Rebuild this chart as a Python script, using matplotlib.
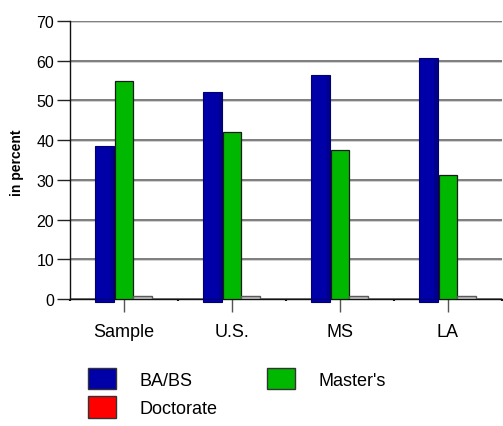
import matplotlib
matplotlib.use("Agg")
import matplotlib.pyplot as plt
from matplotlib.patches import Patch
import numpy as np

plt.rcParams['font.family'] = ['Liberation Sans', 'DejaVu Sans']

categories = ["Sample", "U.S.", "MS", "LA"]
ba_bs = [38.5, 52.0, 56.4, 60.6]
masters = [55.0, 42.0, 37.6, 31.2]
doctorate = [0.8, 0.8, 0.8, 0.8]
series_names = ["BA/BS", "Master's", "Doctorate"]
yticks = [0, 10, 20, 30, 40, 50, 60, 70]

blue = "#0000a8"
green = "#00b800"
red = "#ff0000"

fig = plt.figure(figsize=(5.03, 4.27), dpi=100)
ax = fig.add_axes([70 / 503, 1 - 300 / 427, 432 / 503, 278 / 427])

x = np.arange(len(categories))
w = 0.17

# horizontal grid with a faint shadow line underneath
for t in yticks:
    ax.axhline(t, color="#5a5a5a", lw=1.1, zorder=1)
    ax.axhline(t - 0.25, color="#d0d0d0", lw=0.7, zorder=0.9)

ax.bar(x - 0.18, ba_bs, w, bottom=0, color=blue, edgecolor="#000070",
       lw=0.8, zorder=3, clip_on=False)
# darker right face of the blue bars
ax.bar(x - 0.18 + w / 2 - 0.015, ba_bs, 0.03, color="#000088", lw=0,
       zorder=3.1)
ax.bar(x - 0.18, [-0.75] * len(x), w, bottom=0, color=blue,
       edgecolor="#000070", lw=0.8, zorder=3, clip_on=False)
ax.bar(x, masters, w, color=green, edgecolor="#1a1a1a", lw=0.9, zorder=3)
ax.bar(x + 0.17, doctorate, w, color="#bdbdbd", edgecolor="#5a5a5a",
       lw=1.0, zorder=3)

ax.set_xlim(-0.5, 3.5)
ax.set_ylim(0, 70)
ax.set_yticks(yticks)
ax.set_yticklabels([str(t) for t in yticks], fontsize=11.5)
ax.set_xticks(x)
ax.set_xticklabels(categories, fontsize=13)
ax.set_xticks(np.arange(-0.5, 4.0, 1.0), minor=True)
ax.tick_params(axis="y", direction="out", length=9.5, width=1.0, pad=2,
               color="#222222")
ax.tick_params(axis="x", which="major", direction="out", length=9.5,
               width=1.0, pad=8, color="#555555")
ax.tick_params(axis="x", which="minor", direction="out", length=1.5,
               width=1.5, color="#111111")

for s in ["top", "right"]:
    ax.spines[s].set_visible(False)
ax.spines["left"].set_color("#111111")
ax.spines["bottom"].set_color("#111111")
ax.spines["left"].set_linewidth(1.0)
ax.spines["bottom"].set_linewidth(1.0)

fig.text(17 / 503, 1 - 163 / 427, "in percent", rotation=90, fontsize=10,
         fontweight="bold", ha="center", va="center")

handles = [
    Patch(facecolor=blue, edgecolor="#333333", label=series_names[0]),
    Patch(facecolor=red, edgecolor="#333333", label=series_names[2]),
    Patch(facecolor=green, edgecolor="#333333", label=series_names[1]),
]
fig.legend(handles=handles, loc="upper left",
           bbox_to_anchor=(88 / 503, 1 - 369 / 427), ncol=2, frameon=False,
           fontsize=13, handlelength=1.55, handleheight=1.45,
           handletextpad=1.3, columnspacing=2.75, labelspacing=0.38,
           borderpad=0, borderaxespad=0)

fig.savefig("out.png", dpi=100)
